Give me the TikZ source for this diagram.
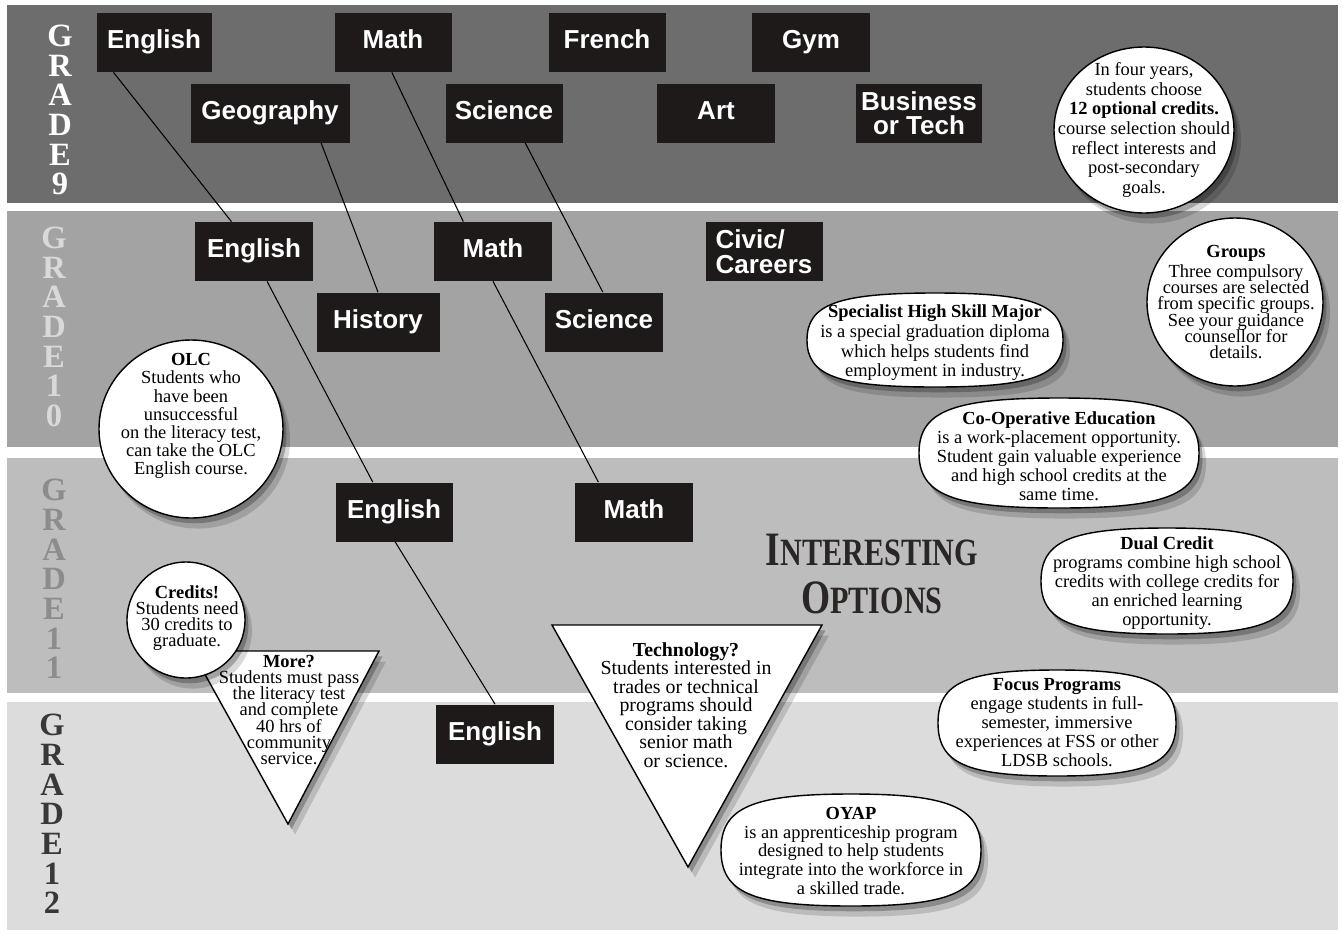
\documentclass[tikz,border=0pt]{standalone}
\usepackage{fontspec}
\setmainfont{Liberation Serif}
\newfontfamily\subjfamily{Liberation Sans}
\usetikzlibrary{shapes.geometric,shadows,calc}

\definecolor{bandnine}{HTML}{6E6D6D}
\definecolor{bandten}{HTML}{A3A3A3}
\definecolor{bandeleven}{HTML}{BDBDBD}
\definecolor{bandtwelve}{HTML}{DCDCDC}
\definecolor{boxblack}{HTML}{1E1A1A}
\definecolor{optionsink}{HTML}{2A2626}

\newcommand*{\pix}{0.02cm}
\lineskiplimit=-10pt

\tikzset{
  subjbase/.style={fill=boxblack, text=white, inner sep=0pt, align=center,
    font=\subjfamily\bfseries\fontsize{14.8}{13.6}\selectfont,
    minimum height=59*\pix},
  subj/.style={subjbase, text height=10.2pt, text depth=3pt},
  fuzzy/.style={drop shadow={shadow xshift=2pt,shadow yshift=-3pt,opacity=.25,fill=black},
    drop shadow={shadow xshift=4pt,shadow yshift=-6pt,opacity=.15,fill=black}},
  bubble/.style={draw=black, line width=0.8pt, fill=white, fuzzy},
  roundbubble/.style={bubble, ellipse, inner sep=0pt},
  note/.style={align=center, inner sep=0pt,
    font=\fontsize{10.5}{#1}\selectfont},
  note/.default=10.8pt,
  link/.style={black, line width=0.6pt},
  gradeletters/.style={align=center, inner sep=0pt,
    font=\bfseries\fontsize{18.5}{16.9}\selectfont}
}

\begin{document}
\begin{tikzpicture}[x=\pix,y=-\pix]
% squarish oval: centre x, centre y, half width, half height, bulge
\newcommand*{\blob}[5]{%
  \draw[bubble] ({#1+#3},#2) .. controls ({#1+#3},{#2-#5*#4}) and ({#1+#5*#3},{#2-#4}) .. (#1,{#2-#4})
    .. controls ({#1-#5*#3},{#2-#4}) and ({#1-#3},{#2-#5*#4}) .. ({#1-#3},#2)
    .. controls ({#1-#3},{#2+#5*#4}) and ({#1-#5*#3},{#2+#4}) .. (#1,{#2+#4})
    .. controls ({#1+#5*#3},{#2+#4}) and ({#1+#3},{#2+#5*#4}) .. ({#1+#3},#2) -- cycle;}
\useasboundingbox (0,0) rectangle (1343,934);
\fill[white] (0,0) rectangle (1343,934);

% grade bands
\foreach \ytop/\ybot/\col in {5/203/bandnine, 211/447/bandten, 458/693/bandeleven, 702/930/bandtwelve}
  \fill[\col] (7,\ytop) rectangle (1338,\ybot);

% grade letters down the left side
\foreach \g/\gx/\gy/\letters/\col in {
    9/60/110/G\\R\\A\\D\\E\\9/white,
    10/54/327/G\\R\\A\\D\\E\\1\\0/black!15,
    11/54/579/G\\R\\A\\D\\E\\1\\1/black!45,
    12/52/814/G\\R\\A\\D\\E\\1\\2/black!78}
  \node[gradeletters, text=\col] (grade\g) at (\gx,\gy) {\letters};

% grade 9
\node[subj, minimum width=115*\pix] (eng9) at (154,42.5) {English};
\node[subj, minimum width=117*\pix] (math9) at (393,42.5) {Math};
\node[subj, minimum width=117*\pix] (french9) at (607,42.5) {French};
\node[subj, minimum width=118*\pix] (gym9) at (811,42.5) {Gym};
\node[subj, minimum width=159*\pix] (geo9) at (270,113) {Geography};
\node[subj, minimum width=117*\pix] (sci9) at (504,113) {Science};
\node[subj, minimum width=118*\pix] (art9) at (716,113) {Art};
\node[subjbase, minimum width=126*\pix] (bus9) at (919,113) {Business\\or Tech};

% grade 10
\node[subj, minimum width=118*\pix] (eng10) at (254,251.5) {English};
\node[subj, minimum width=118*\pix] (math10) at (493,251.5) {Math};
\node[subjbase, minimum width=117*\pix, align=left, font=\subjfamily\bfseries\fontsize{14.8}{14}\selectfont] (civic10) at (764,251.5) {Civic/\\Careers};
\node[subj, minimum width=123*\pix] (hist10) at (378,322) {History};
\node[subj, minimum width=118*\pix] (sci10) at (604,322) {Science};

% grade 11
\node[subj, minimum width=117*\pix] (eng11) at (394,512) {English};
\node[subj, minimum width=118*\pix] (math11) at (634,512) {Math};

% grade 12
\node[subj, minimum width=118*\pix] (eng12) at (495,734) {English};

% year to year
\draw[link] ($(eng9.south west)!.15!(eng9.south east)$) -- ($(eng10.north west)!.31!(eng10.north east)$);
\draw[link] ($(geo9.south west)!.82!(geo9.south east)$) -- ($(hist10.north west)!.5!(hist10.north east)$);
\draw[link] ($(math9.south west)!.49!(math9.south east)$) -- ($(math10.north west)!.25!(math10.north east)$);
\draw[link] ($(sci9.south west)!.68!(sci9.south east)$) -- ($(sci10.north west)!.49!(sci10.north east)$);
\draw[link] ($(eng10.south west)!.61!(eng10.south east)$) -- ($(eng11.north west)!.32!(eng11.north east)$);
\draw[link] ($(math10.south west)!.5!(math10.south east)$) -- ($(math11.north west)!.2!(math11.north east)$);
\draw[link] ($(eng11.south west)!.51!(eng11.south east)$) -- ($(eng12.north west)!.5!(eng12.north east)$);

% triangles
\draw[bubble] (192,651) -- (379,651) -- (288,824) -- cycle;
\draw[bubble] (552,625) -- (822,625) -- (688,867) -- cycle;

% bubbles
\node[roundbubble, minimum width=180*\pix, minimum height=166*\pix] (years) at (1144,130) {};
\node[roundbubble, minimum width=176*\pix, minimum height=168*\pix] (groups) at (1235,302) {};
\node[roundbubble, minimum width=184*\pix, minimum height=178*\pix] (olc) at (191,429) {};
\node[roundbubble, minimum width=118*\pix, minimum height=116*\pix] (credits) at (186,620) {};
\blob{935}{340}{128}{47}{.76}
\blob{1059}{453}{140}{55}{.76}
\blob{1167}{581}{126}{53}{.76}
\blob{1057}{723}{119}{53}{.76}
\blob{851}{850}{130}{56}{.76}

% bubble texts
\node[note=11.2pt] (yearstext) at (years) {In four years,\\students choose\\\textbf{12 optional credits.}\\course selection should\\reflect interests and\\post-secondary\\goals.};
\node[note=9.3pt] (groupstext) at ($(groups)+(1,0)$) {\textbf{Groups}\\[2pt]Three compulsory\\courses are selected\\from specific groups.\\See your guidance\\counsellor for\\details.};
\node[note=11.2pt] (shsmtext) at (935,343) {\textbf{Specialist High Skill Major}\\is a special graduation diploma\\which helps students find\\employment in industry.};
\node[note] (cooptext) at (1059,456) {\textbf{Co-Operative Education}\\is a work-placement opportunity.\\Student gain valuable experience\\and high school credits at the\\same time.};
\node[note=10.3pt] (olctext) at ($(olc)+(0,-13)$) {\textbf{OLC}\\Students who\\have been\\unsuccessful\\on the literacy test,\\can take the OLC\\English course.};
\node[note] (dualtext) at (1167,583) {\textbf{Dual Credit}\\programs combine high school\\credits with college credits for\\an enriched learning\\opportunity.};
\node[note=9.2pt] (creditstext) at ($(credits)+(1,-2)$) {\textbf{Credits!}\\Students need\\30 credits to\\graduate.};
\node[note] (focustext) at (1057,723) {\textbf{Focus Programs}\\engage students in full-\\semester, immersive\\experiences at FSS or other\\LDSB schools.};
\node[note] (oyaptext) at (851,851) {\textbf{OYAP}\\is an apprenticeship program\\designed to help students\\integrate into the workforce in\\a skilled trade.};
\node[note=9.2pt] (moretext) at (289,710) {\textbf{More?}\\Students must pass\\the literacy test\\and complete\\40 hrs of\\community\\service.};
\node[note=10.5pt, font=\fontsize{11.3}{10.5}\selectfont] (techtext) at (686,705) {\textbf{Technology?}\\Students interested in\\trades or technical\\programs should\\consider taking\\senior math\\or science.};

% the big heading
\node[align=center, inner sep=0pt, text=optionsink, font=\bfseries\fontsize{22}{27}\selectfont] (options) at (872,574)
  {\scalebox{.78}[1]{{\fontsize{27.3}{27}\selectfont I}NTERESTING}\\\scalebox{.78}[1]{{\fontsize{27.3}{27}\selectfont O}PTIONS}};
\end{tikzpicture}
\end{document}
